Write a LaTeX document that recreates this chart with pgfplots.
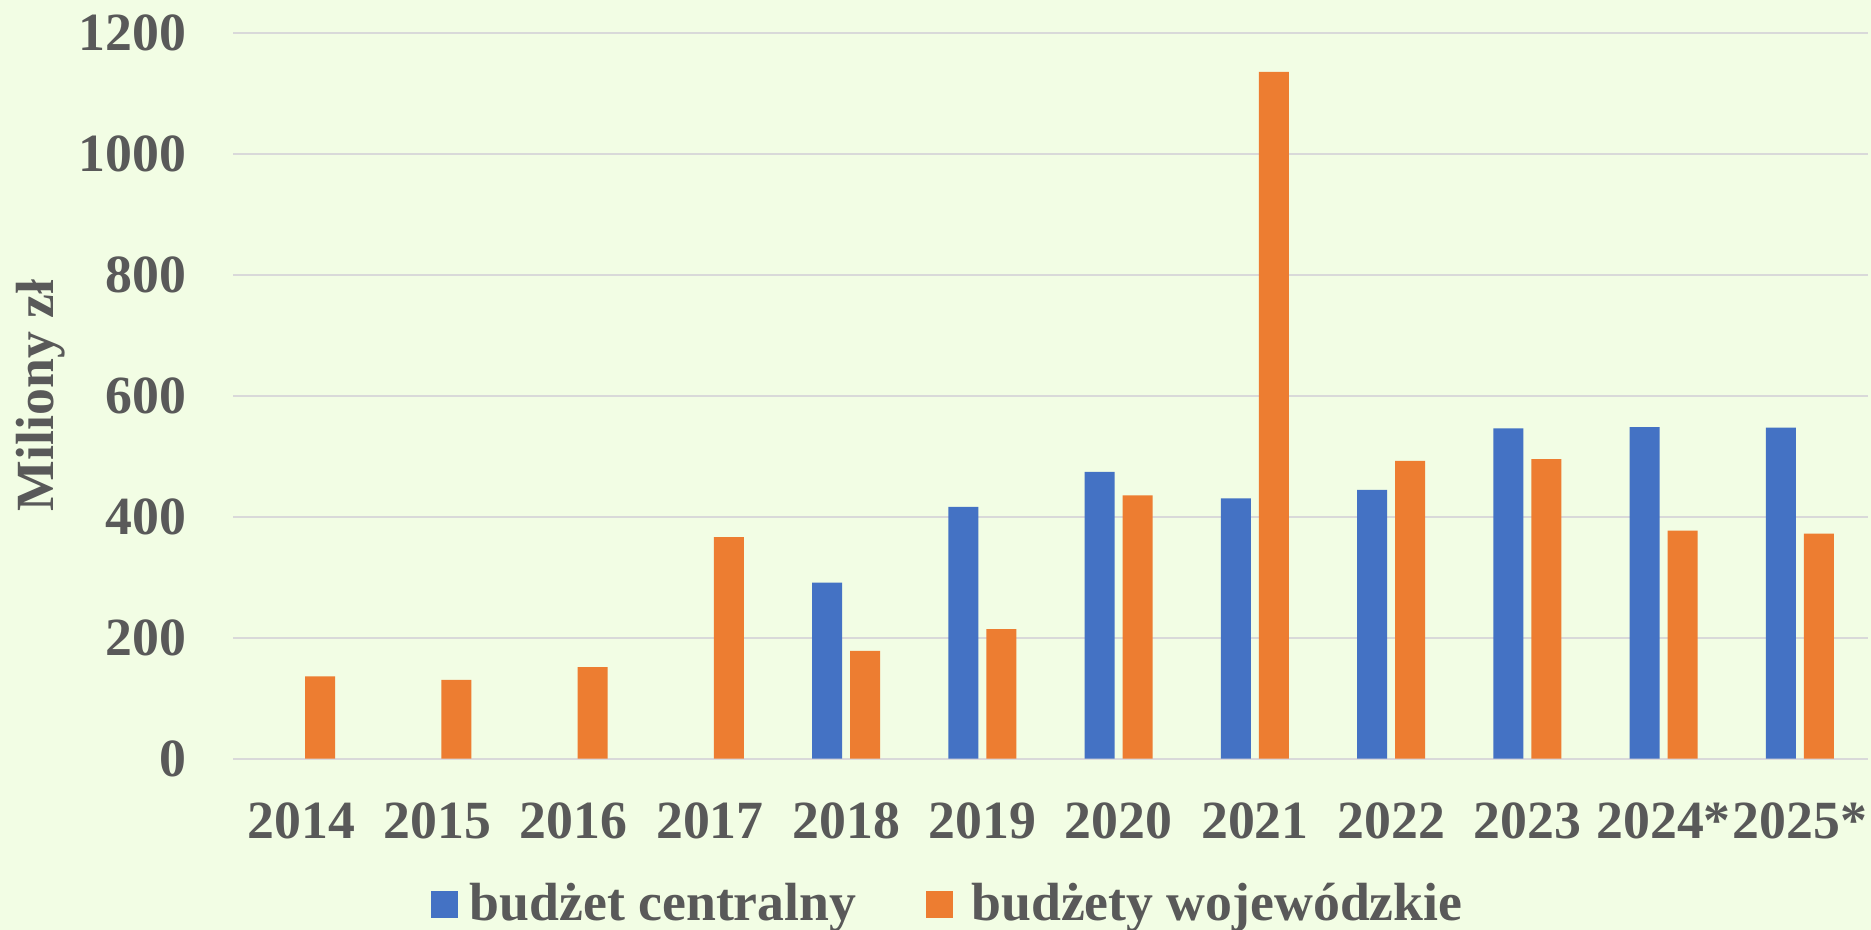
\documentclass[border=0pt]{standalone}
\usepackage{pgfplots}
\pgfplotsset{compat=1.18}
\usepackage{fontspec}
\setmainfont{Liberation Serif}
\definecolor{bg}{HTML}{F2FDE4}
\definecolor{cblue}{HTML}{4472C4}
\definecolor{corange}{HTML}{ED7D31}
\definecolor{txt}{HTML}{595959}
\definecolor{gridc}{HTML}{D9D9D9}
\begin{document}
\begin{tikzpicture}
\fill[bg] (0bp,0bp) rectangle (748.4bp,372bp);
\useasboundingbox (0bp,0bp) rectangle (748.4bp,372bp);
\begin{axis}[
 at={(93.2bp,68.56bp)}, anchor=south west,
 scale only axis, width=654bp, height=290.4bp,
 xmin=-0.5, xmax=11.5, ymin=0, ymax=1200,
 ytick={0,200,...,1200},
 xtick={0,...,11},
 xticklabels={2014,2015,2016,2017,2018,2019,2020,2021,2022,2023,2024*,2025*},
 ymajorgrids, grid style={gridc, line width=0.8bp},
 axis line style={draw=none},
 major tick length=0pt,
 tick label style={font=\fontsize{21.5bp}{24bp}\selectfont\bfseries, text=txt, inner sep=0pt},
 yticklabel style={anchor=east, xshift=-18.6bp},
 xticklabel style={anchor=north, yshift=-17.4bp},
 /pgf/number format/assume math mode=true,
 /pgf/number format/1000 sep={},
 ylabel={Miliony zł},
 ylabel style={at={(axis description cs:-0.1095,0.5)}, anchor=base, font=\fontsize{21.5bp}{24bp}\selectfont\bfseries, text=txt},
 legend style={at={(axis description cs:0.438,-0.2003)}, anchor=center, draw=none, fill=none,
   legend columns=2, font=\fontsize{21.5bp}{24bp}\selectfont\bfseries, text=txt,
   /tikz/every even column/.append style={column sep=26bp}},
]
\addplot[ybar, bar width=12bp, bar shift=-7.6bp, fill=cblue, draw=none,
  legend image code/.code={\fill[cblue] (0bp,-5.4bp) rectangle (10.8bp,5.4bp); \path (13.6bp,0bp);}]
  coordinates {(4,291) (5,416) (6,474) (7,430) (8,444) (9,546) (10,548) (11,547)};
\addplot[ybar, bar width=12bp, bar shift=7.6bp, fill=corange, draw=none,
  legend image code/.code={\fill[corange] (0bp,-5.4bp) rectangle (10.8bp,5.4bp); \path (16bp,0bp);}]
  coordinates {(0,136) (1,130) (2,151) (3,366) (4,178) (5,214) (6,435) (7,1135) (8,492) (9,495) (10,377) (11,372)};
\legend{budżet centralny, budżety wojewódzkie}
\end{axis}
\end{tikzpicture}
\end{document}
